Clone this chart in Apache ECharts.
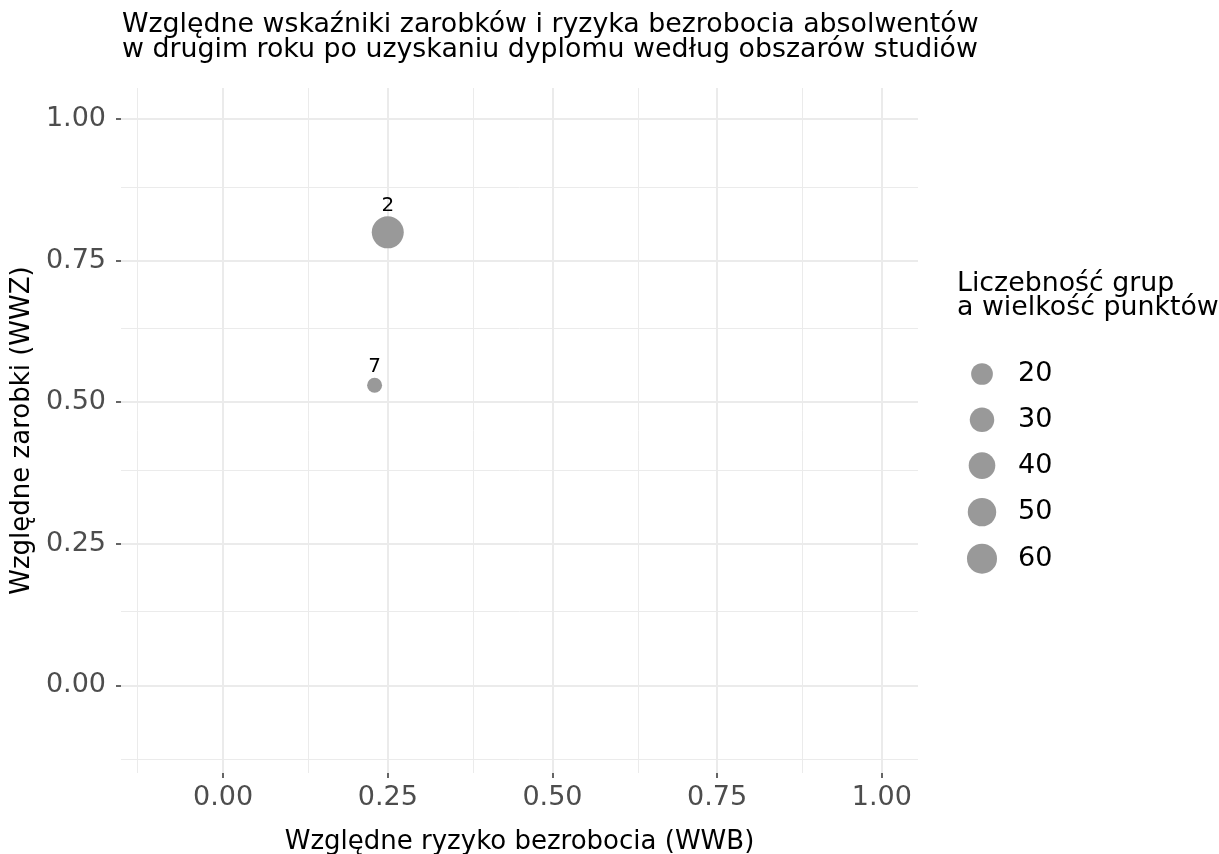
<!DOCTYPE html>
<html>
<head>
<meta charset="utf-8">
<script src="https://cdn.jsdelivr.net/npm/echarts@6/dist/echarts.min.js"></script>
<style>
  html, body { margin: 0; padding: 0; background: #fff; }
  #main { width: 1219px; height: 854px; }
</style>
</head>
<body>
<div id="main"></div>
<script>
// dane: obszary studiów (numer grupy), WWB, WWZ, liczebność
var groups = ['2', '7'];
var wwb = [0.25, 0.23];
var wwz = [0.80, 0.53];
var counts = [74, 10];

// legenda wielkości punktów
var legendCounts = [20, 30, 40, 50, 60];

// podziałki osi
var majorTicks = [0, 0.25, 0.5, 0.75, 1];
var minorTicks = [-0.125, 0.125, 0.375, 0.625, 0.875];

var FONT = 'DejaVu Sans';

// wielkość punktu (średnica w px) wg liczebności grupy
function sizeFor(n) {
  return 15 + 17 * Math.sqrt((n - 10) / (74 - 10));
}

var points = groups.map(function (g, i) {
  return { name: g, value: [wwb[i], wwz[i], counts[i]] };
});

function gridLines(axisKey) {
  var out = [];
  majorTicks.forEach(function (v) {
    var o = { lineStyle: { width: 2, color: '#EBEBEB', type: 'solid' } };
    o[axisKey] = v;
    out.push(o);
  });
  minorTicks.forEach(function (v) {
    var o = { lineStyle: { width: 1, color: '#EBEBEB', type: 'solid' } };
    o[axisKey] = v;
    out.push(o);
  });
  return out;
}

function axisCommon() {
  return {
    type: 'value',
    min: -0.155,
    max: 1.055,
    axisLine: { show: false, onZero: false },
    splitLine: { show: false },
    axisTick: {
      show: true, length: 5, customValues: majorTicks,
      lineStyle: { color: '#333333', width: 1.5 }
    },
    axisLabel: {
      customValues: majorTicks,
      color: '#4D4D4D', fontFamily: FONT, fontSize: 27,
      formatter: function (v) { return v.toFixed(2); }
    },
    nameLocation: 'middle',
    nameTextStyle: { color: '#000', fontFamily: FONT, fontSize: 26 }
  };
}

var xAxis = axisCommon();
xAxis.name = 'Względne ryzyko bezrobocia (WWB)';
xAxis.nameGap = 56;
xAxis.axisLabel.margin = 11;

var yAxis = axisCommon();
yAxis.name = 'Względne zarobki (WWZ)';
yAxis.nameGap = 85;
yAxis.axisLabel.margin = 15;

var series = [
  {
    type: 'line', data: [], z: 0, silent: true,
    markLine: {
      silent: true, symbol: 'none', z: 0, animation: false,
      label: { show: false },
      data: gridLines('xAxis').concat(gridLines('yAxis'))
    }
  },
  {
    type: 'scatter',
    data: points,
    z: 3,
    symbolSize: function (val) { return sizeFor(val[2]); },
    itemStyle: { color: '#999999', opacity: 1 },
    label: {
      show: true, position: 'top', distance: 1,
      formatter: function (p) { return p.name; },
      color: '#000', fontFamily: FONT, fontSize: 20
    }
  }
];

var legends = [];
legendCounts.forEach(function (n, i) {
  var d = sizeFor(n);
  var cy = 375.5 + i * 45.8;
  series.push({ type: 'scatter', name: String(n), data: [], itemStyle: { color: '#999999', opacity: 1 } });
  legends.push({
    data: [String(n)],
    left: 982 - d / 2,
    top: cy - Math.max(d, 30) / 2,
    padding: 0,
    itemWidth: d,
    itemHeight: d,
    icon: 'circle',
    selectedMode: false,
    textStyle: { color: '#000', fontFamily: FONT, fontSize: 27, padding: [0, 0, 0, 31 - d / 2] }
  });
});

var chart = echarts.init(document.getElementById('main'));
chart.setOption({
  backgroundColor: '#fff',
  animation: false,
  title: [
    {
      text: 'Względne wskaźniki zarobków i ryzyka bezrobocia absolwentów\nw drugim roku po uzyskaniu dyplomu według obszarów studiów',
      left: 122, top: 13, padding: 0,
      textStyle: { color: '#000', fontFamily: FONT, fontSize: 26.8, fontWeight: 'normal', lineHeight: 25 }
    },
    {
      text: 'Liczebność grup\na wielkość punktów',
      left: 957, top: 272, padding: 0,
      textStyle: { color: '#000', fontFamily: FONT, fontSize: 26.8, fontWeight: 'normal', lineHeight: 24 }
    }
  ],
  grid: { left: 121, right: 301, top: 88, bottom: 81, containLabel: false, outerBoundsMode: 'none' },
  xAxis: xAxis,
  yAxis: yAxis,
  legend: legends,
  series: series
});
</script>
</body>
</html>
